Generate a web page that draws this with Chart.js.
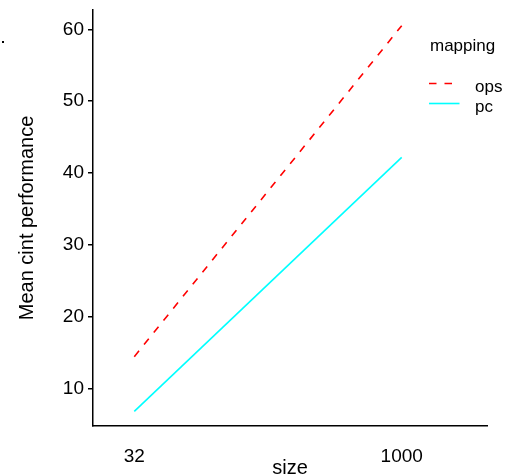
<!DOCTYPE html>
<html>
<head>
<meta charset="utf-8">
<script src="https://cdn.jsdelivr.net/npm/chart.js@4"></script>
<style>
  html, body { margin: 0; padding: 0; background: #fff; }
  #wrap { width: 505px; height: 476px; }
</style>
</head>
<body>
<div id="wrap"><canvas id="chart" width="505" height="476"></canvas></div>
<script>
// data
const sizes = [32, 1000];
const opsValues = [14.5, 60.5];
const pcValues = [6.9, 42.2];
const xTicks = [32, 1000];
const yTicks = [10, 20, 30, 40, 50, 60];
const legendTitle = 'mapping';

const FONT = "'Liberation Sans', Arial, sans-serif";

function toPoints(values) {
    return sizes.map((s, i) => ({ x: s, y: values[i] }));
}

// legend drawn over the top right of the plot, like ggplot's
const mappingLegend = {
    id: 'mappingLegend',
    afterDraw(chart) {
        const c = chart.ctx;
        c.save();
        c.fillStyle = '#000';
        c.font = '17px ' + FONT;
        c.textBaseline = 'alphabetic';
        c.fillText(legendTitle, 430, 50.5);
        chart.data.datasets.forEach((ds, i) => {
            const y = 83.5 + i * 20;
            c.beginPath();
            c.strokeStyle = ds.borderColor;
            c.lineWidth = 1.6;
            c.setLineDash(ds.borderDash || []);
            c.moveTo(429, y);
            c.lineTo(459.5, y);
            c.stroke();
            c.setLineDash([]);
            c.fillStyle = '#000';
            c.fillText(ds.label, 475, y + 8);
        });
        // stray dot at top left of the original image
        c.fillStyle = '#000';
        c.fillRect(2, 41, 2, 2);
        c.restore();
    }
};

const ctx = document.getElementById('chart').getContext('2d');
new Chart(ctx, {
    type: 'line',
    data: {
        datasets: [
            {
                label: 'ops',
                data: toPoints(opsValues),
                borderColor: '#ff0000',
                borderDash: [7.5, 8],
                borderWidth: 1.6,
                fill: false
            },
            {
                label: 'pc',
                data: toPoints(pcValues),
                borderColor: '#00ffff',
                borderWidth: 1.6,
                fill: false
            }
        ]
    },
    options: {
        responsive: false,
        animation: false,
        layout: { padding: { left: 0, right: 18, top: 10, bottom: 0 } },
        plugins: {
            legend: { display: false },
            tooltip: { enabled: false }
        },
        elements: {
            point: { radius: 0 },
            line: { tension: 0 }
        },
        scales: {
            x: {
                type: 'linear',
                min: -117.5,
                max: 1308.8,
                afterFit: s => { s.height = 50; s.paddingLeft = 0; s.paddingRight = 0; },
                afterBuildTicks: s => { s.ticks = xTicks.map(v => ({ value: v })); },
                grid: { display: false },
                border: { display: true, color: '#000', width: 1.5 },
                ticks: {
                    padding: 11,
                    color: '#000',
                    autoSkip: false,
                    maxRotation: 0,
                    font: { family: FONT, size: 19 },
                    callback: v => String(v)
                },
                title: {
                    display: true,
                    text: 'size',
                    color: '#000',
                    font: { family: FONT, size: 20, lineHeight: 1 },
                    padding: { top: 0, bottom: -2 }
                }
            },
            y: {
                type: 'linear',
                min: 4.86,
                max: 62.68,
                afterFit: s => { s.width = 93; s.paddingTop = 0; s.paddingBottom = 0; },
                afterBuildTicks: s => { s.ticks = yTicks.map(v => ({ value: v })); },
                grid: {
                    display: true,
                    drawOnChartArea: false,
                    drawTicks: true,
                    tickLength: 5,
                    color: '#000',
                    lineWidth: 1.5
                },
                border: { display: true, color: '#000', width: 1.5 },
                ticks: {
                    padding: 4,
                    color: '#000',
                    font: { family: FONT, size: 19, lineHeight: 0.9 },
                    callback: v => String(v)
                },
                title: {
                    display: true,
                    text: 'Mean cint performance',
                    color: '#000',
                    font: { family: FONT, size: 20, lineHeight: 1.2 },
                    padding: { top: 15.5, bottom: 0 }
                }
            }
        }
    },
    plugins: [mappingLegend]
});
</script>
</body>
</html>
